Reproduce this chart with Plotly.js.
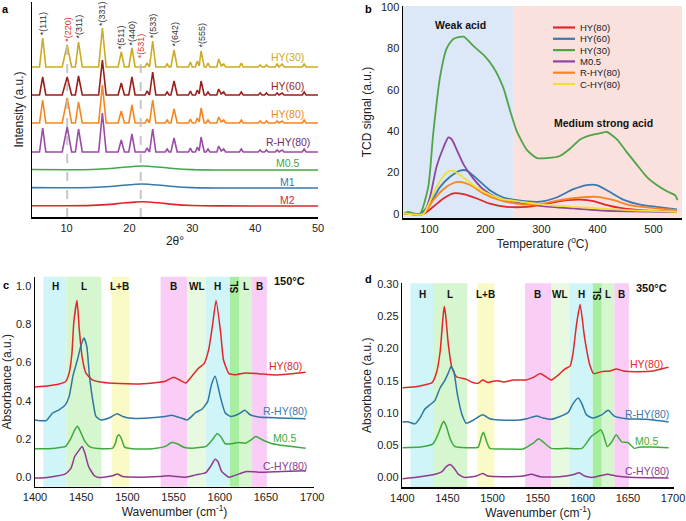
<!DOCTYPE html>
<html>
<head>
<meta charset="utf-8">
<script src="https://cdn.plot.ly/plotly-3.0.1.min.js"></script>
<style>html,body{margin:0;padding:0;background:#fff;}#chart{width:686px;height:521px;}</style>
</head>
<body>
<div id="chart"></div>
<script>
// ---------------- Panel a: XRD ----------------
const xrdX = [4.5,5.7,6.2,6.7,9.3,10.1,10.8,11.4,11.9,12.5,15.1,15.7,16.3,18.2,18.7,19.2,19.9,20.4,20.9,22.5,22.8,23.2,23.7,24.2,25.7,26.0,26.3,26.6,27.1,27.6,29.4,29.7,30.0,30.5,30.8,31.1,31.4,31.9,32.2,32.5,32.8,33.9,34.2,34.6,35.0,35.3,37.5,37.8,38.1,40.5,40.8,41.1,41.5,41.8,42.1,43.2,43.5,43.8,44.3,44.6,47.5,47.8,48.1,50];
const xrdHY30 = [0,0,29,0, 0,22,0, 0,25,0, 0,39,0, 0,15,0, 0,19,0, 0,4,0, 26,0, 0,3,0, 0,17,0, 0,5,0, 0,6,1, 16,0, 0,4,0, 0,8,1, 3,0, 0,4,0, 0,2,0, 0,2,0, 0,3,0, 3,0, 0,3,0, 0];
const xrdHY60 = [0,0,18,0, 0,18,0, 0,19,0, 0,35,0, 0,12,0, 0,18,0, 0,4,0, 23,0, 0,3,0, 0,14,0, 0,4,0, 0,5,1, 14,0, 0,3,0, 0,6,1, 3,0, 0,3,0, 0,2,0, 0,2,0, 0,2,0, 2,0, 0,3,0, 0];
const xrdHY80 = [0,0,23,0, 0,25,0, 0,21,0, 0,38,0, 0,12,0, 0,18,0, 0,4,0, 23,0, 0,3,0, 0,14,0, 0,4,0, 0,5,1, 15,0, 0,3,0, 0,6,1, 3,0, 0,3,0, 0,2,0, 0,2,0, 0,2,0, 2,0, 0,3,0, 0];
const xrdRHY80 = [0,0,24,0, 0,25,0, 0,23,0, 0,39,0, 0,12,0, 0,18,0, 0,4,0, 23,0, 0,3,0, 0,14,0, 0,4,0, 0,5,1, 15,0, 0,3,0, 0,6,1, 3,0, 0,3,0, 0,2,0, 0,2,0, 0,2,0, 2,0, 0,3,0, 0];
const xrdMX = [4.5,10,14,17,19,21,22,23,25,27,30,35,50];
const xrdM05 = [0.5,0.3,0.5,1.5,2.8,3.8,4,3.8,2.8,1.5,0.4,0,0];
const xrdM1 = [0.4,0.2,0.5,1.5,2.8,3.8,4,3.8,2.8,1.5,0.4,0,0];
const xrdM2 = [0.3,0.2,0.6,1.6,3,3.9,4.2,4,3,1.6,0.5,0.1,0];
const xrdNames = ['HY(30)','HY(60)','HY(80)','R-HY(80)','M0.5','M1','M2'];
const xrdOffsets = [150,122,94,65,47,29,11];
const peakHKL = ['(111)','(220)','(311)','(331)','(511)','(440)','(531)','(533)','(642)','(555)'];
const peakPos = [6.2,10.1,11.9,15.7,18.7,20.4,21.8,23.7,27.1,31.4];
const peakLabelY = [180,173,176,189,166,170,157,177,168,167];
const dashedLinesX = [10.1,21.8];
const dashedLinesTop = [172,155];

// ---------------- Panel b: NH3-TPD ----------------
const tcdNames = ['HY(80)','HY(60)','HY(30)','M0.5','R-HY(80)','C-HY(80)'];
const tcdHY80x = [55,89,107,125,143,161,185,208,238,274,310,345,369,393,417,446,476,542];
const tcdHY80y = [0.3,0,3.5,7.5,10,9.6,7.5,5,3.5,3.5,5,6.7,7,6.3,4.3,2.7,1.9,1.1];
const tcdHY60x = [55,83,101,119,137,155,167,185,208,232,256,298,327,357,381,399,417,446,476,506,542];
const tcdHY60y = [0.3,0,5,13,18,21,21,17,11.5,8,6.7,6,8,12,14,14,11.5,7,4.6,3.5,2.2];
const tcdHY30x = [55,62,70,83,98,107,119,131,143,161,179,196,214,232,244,256,274,292,310,333,351,369,387,405,417,435,452,470,488,506,524,539,543];
const tcdHY30y = [0.3,1,0.5,0,13,39,66,80,84.5,85.6,81,77,71,61,50,40,31,27,27,28,31.5,36,38,39,39.6,36,30,24,18,14,11,9,6.7];
const tcdM05x = [55,89,101,113,125,134,140,149,161,179,196,220,250,298,357,417,542];
const tcdM05y = [0.3,0,8,23,32,37,36,31,24,17,12,8,6,4,2.7,1.6,1.1];
const tcdRHY80x = [55,89,107,125,143,155,173,196,226,262,298,333,369,399,429,458,506,542];
const tcdRHY80y = [0.3,0,6.7,12,15,15.5,14,10,6.7,4.8,4.8,6.7,8,8.3,6.7,4.3,2.7,1.9];
const tcdCHY80x = [55,89,107,119,131,140,155,173,196,226,262,310,357,405,452,542];
const tcdCHY80y = [0.3,0,10,16,20,21,19,15,11,7.5,6,4.3,3.5,2.7,1.9,1.1];
const acidRegions = [[53,250],[250,551]];
const acidNames = ['Weak acid','Medium strong acid'];

// ---------------- Panels c, d: Py-IR ----------------
const irNames = ['HY(80)','R-HY(80)','M0.5','C-HY(80)'];
const irC_HY80x = [1400,1415,1426,1433,1437,1440,1442,1445.5,1448,1451,1455,1462,1473,1491,1513,1534,1541,1550,1556,1563,1570,1577,1583,1588,1592,1596,1601,1604,1610,1617,1628,1642,1660,1678,1693];
const irC_HY80y = [0.472,0.479,0.488,0.50,0.546,0.65,0.81,0.925,0.77,0.63,0.546,0.51,0.497,0.49,0.488,0.497,0.502,0.523,0.51,0.493,0.53,0.57,0.595,0.668,0.79,0.925,0.755,0.615,0.542,0.537,0.546,0.542,0.535,0.542,0.549];
const irC_RHY80x = [1400,1412,1419,1426,1433,1437,1441,1446,1450,1453,1456,1459,1463,1466,1471,1480,1489,1495,1505,1523,1541,1548,1556,1565,1574,1581,1587,1591,1595,1601,1606,1612,1621,1627,1633,1642,1664,1693];
const irC_RHY80y = [0.30,0.296,0.336,0.353,0.38,0.423,0.528,0.616,0.694,0.729,0.686,0.528,0.388,0.318,0.30,0.31,0.332,0.318,0.308,0.31,0.318,0.324,0.313,0.30,0.339,0.357,0.397,0.484,0.528,0.414,0.336,0.318,0.332,0.35,0.327,0.315,0.31,0.306];
const irC_M05x = [1400,1415,1422,1433,1439,1443,1446,1449,1454,1460,1473,1484,1487,1489,1491,1494,1497,1505,1527,1541,1548,1554,1561,1570,1585,1592,1597,1601,1606,1612,1620,1628,1633,1639,1646,1657,1671,1693];
const irC_M05y = [0.149,0.149,0.152,0.161,0.205,0.248,0.266,0.24,0.187,0.157,0.149,0.152,0.178,0.213,0.222,0.196,0.157,0.149,0.149,0.161,0.182,0.175,0.157,0.152,0.161,0.196,0.227,0.213,0.175,0.175,0.182,0.178,0.192,0.213,0.196,0.175,0.164,0.152];
const irC_CHY80x = [1400,1415,1433,1439,1443,1448,1451,1454,1458,1464,1469,1484,1489,1495,1513,1534,1545,1563,1574,1585,1590,1595,1598,1602,1610,1621,1629,1642,1667,1693];
const irC_CHY80y = [-0.005,0,0.017,0.047,0.108,0.143,0.161,0.126,0.056,0.009,-0.002,0.007,0.017,0.003,0,0.003,0.007,0,0.012,0.024,0.056,0.094,0.082,0.03,0,0.017,0.03,0.026,0.03,0.033];

const irD_HY80x = [1400,1412,1423,1433,1438,1442,1445,1446.5,1448,1451,1455,1460,1471,1478,1484,1489,1495,1500,1506,1512,1523,1537,1545,1553,1558,1565,1573,1580,1586,1589,1593,1597,1602,1608,1612,1621,1630,1637,1645,1659,1678,1689,1695];
const irD_HY80y = [0.139,0.14,0.143,0.147,0.163,0.196,0.247,0.265,0.252,0.206,0.17,0.156,0.152,0.147,0.146,0.151,0.147,0.149,0.15,0.148,0.151,0.151,0.155,0.161,0.157,0.151,0.159,0.168,0.173,0.191,0.237,0.268,0.216,0.173,0.161,0.164,0.165,0.168,0.165,0.164,0.165,0.169,0.171];
const irD_RHY80x = [1400,1407,1414,1420,1425,1431,1436,1442,1447,1451,1454,1457,1461,1466,1471,1479,1489,1497,1508,1530,1538,1549,1556,1565,1574,1584,1589,1595,1599,1604,1611,1621,1628,1635,1648,1670,1695];
const irD_RHY80y = [0.086,0.086,0.083,0.093,0.106,0.113,0.119,0.139,0.15,0.162,0.172,0.165,0.129,0.098,0.084,0.089,0.097,0.091,0.089,0.089,0.091,0.095,0.092,0.09,0.094,0.101,0.114,0.123,0.114,0.097,0.092,0.097,0.104,0.095,0.091,0.09,0.086];
const irD_M05x = [1400,1420,1434,1440,1444,1446,1449,1453,1458,1471,1484,1488,1490,1493,1497,1512,1534,1538,1545,1551,1556,1565,1582,1599,1604,1609,1615,1620,1623,1627,1632,1637,1643,1650,1657,1663,1678,1695];
const irD_M05y = [0.046,0.047,0.052,0.068,0.083,0.087,0.078,0.06,0.048,0.046,0.047,0.065,0.07,0.057,0.045,0.044,0.044,0.047,0.053,0.06,0.055,0.045,0.045,0.045,0.053,0.063,0.069,0.074,0.065,0.048,0.055,0.066,0.055,0.054,0.045,0.047,0.047,0.046];
const irD_CHY80x = [1400,1420,1434,1444,1449,1453,1457,1462,1469,1482,1489,1495,1512,1534,1543,1553,1574,1589,1596,1602,1611,1627,1637,1652,1695];
const irD_CHY80y = [-0.002,0.001,0.004,0.009,0.017,0.02,0.015,0.005,0,0.002,0.006,0.002,0.001,0.002,0.005,0.001,0.001,0.004,0.007,0.002,0,0.005,0.002,0,-0.001];

const bandLabels = ['H','L','L+B','B','WL','H','SL','L','B'];
const bandStart = [1409,1434,1483,1536,1565,1585,1611,1621,1635];
const bandEnd   = [1434,1472,1502,1565,1585,1611,1621,1635,1651];
const bandType  = ['H','L','LB','B','WL','H','SL','L','B'];
const bandColors = {H:'#CFF5F8', L:'#D5F6CE', LB:'#FAFAC6', B:'#F9CDF6', WL:'#E7F9E0', SL:'#A8EEA0'};

// ---------------- Styles ----------------
const FONT = 'Liberation Sans, Arial, Helvetica, sans-serif';
const xrdColors = ['#CCAA22','#9B1E1A','#F5861F','#9A4BA6','#3EAA48','#3878B0','#DC262C'];
const xrdLabelColors = ['#CCAA22','#9B1E1A','#F08A24','#6E2C70','#3EAA48','#3878B0','#DC262C'];
const tcdColors = ['#E2262A','#3A78AE','#4FA447','#8E44A0','#F7861E','#F2E135'];
const irColors = ['#E2262A','#2E77A3','#3DAA3D','#8E3B8E'];
const irLabelColors = ['#E2262A','#3A78AE','#3DAA3D','#8E3B8E'];

const traces = [];
// panel a
const xrdSeries = [xrdHY30, xrdHY60, xrdHY80, xrdRHY80];
xrdSeries.forEach((s, i) => {
  traces.push({x: xrdX, y: s.map(v => v + xrdOffsets[i]), type: 'scatter', mode: 'lines',
    line: {color: xrdColors[i], width: 1.6}, xaxis: 'x', yaxis: 'y', showlegend: false, name: xrdNames[i]});
});
[xrdM05, xrdM1, xrdM2].forEach((s, j) => {
  const i = j + 4;
  traces.push({x: xrdMX, y: s.map(v => v + xrdOffsets[i]), type: 'scatter', mode: 'lines',
    line: {color: xrdColors[i], width: 1.6, shape: 'spline'}, xaxis: 'x', yaxis: 'y', showlegend: false, name: xrdNames[i]});
});
// panel b
const tcdX = [tcdHY80x, tcdHY60x, tcdHY30x, tcdM05x, tcdRHY80x, tcdCHY80x];
const tcdY = [tcdHY80y, tcdHY60y, tcdHY30y, tcdM05y, tcdRHY80y, tcdCHY80y];
tcdX.forEach((xs, i) => {
  traces.push({x: xs, y: tcdY[i], type: 'scatter', mode: 'lines',
    line: {color: tcdColors[i], width: 1.8, shape: 'spline', smoothing: 0.6}, xaxis: 'x2', yaxis: 'y2', showlegend: false, name: tcdNames[i]});
});
// panel c
const irCX = [irC_HY80x, irC_RHY80x, irC_M05x, irC_CHY80x];
const irCY = [irC_HY80y, irC_RHY80y, irC_M05y, irC_CHY80y];
irCX.forEach((xs, i) => {
  traces.push({x: xs, y: irCY[i], type: 'scatter', mode: 'lines',
    line: {color: irColors[i], width: 1.5, shape: 'spline', smoothing: 0.5}, xaxis: 'x3', yaxis: 'y3', showlegend: false, name: irNames[i]});
});
// panel d
const irDX = [irD_HY80x, irD_RHY80x, irD_M05x, irD_CHY80x];
const irDY = [irD_HY80y, irD_RHY80y, irD_M05y, irD_CHY80y];
irDX.forEach((xs, i) => {
  traces.push({x: xs, y: irDY[i], type: 'scatter', mode: 'lines',
    line: {color: irColors[i], width: 1.5, shape: 'spline', smoothing: 0.5}, xaxis: 'x4', yaxis: 'y4', showlegend: false, name: irNames[i]});
});

// ---------------- Shapes ----------------
const shapes = [];
acidRegions.forEach((r, i) => {
  shapes.push({type: 'rect', xref: 'x2', yref: 'y2 domain', x0: r[0], x1: r[1], y0: 0, y1: 1,
    fillcolor: i === 0 ? '#DCE7F8' : '#FBE1DE', line: {width: 0}, layer: 'below'});
});
['x3','x4'].forEach((xr, p) => {
  const yr = p === 0 ? 'y3 domain' : 'y4 domain';
  bandStart.forEach((b, i) => {
    shapes.push({type: 'rect', xref: xr, yref: yr, x0: b, x1: bandEnd[i], y0: 0, y1: 1,
      fillcolor: bandColors[bandType[i]], line: {width: 0}, layer: 'below'});
  });
});
dashedLinesX.forEach((x, i) => {
  shapes.push({type: 'line', xref: 'x', yref: 'y', x0: x, x1: x, y0: 0, y1: dashedLinesTop[i],
    line: {color: '#BDBDBD', width: 2, dash: 'dash'}, opacity: 0.85, layer: 'above'});
});

// ---------------- Annotations ----------------
const ann = [];
const W = 686, H = 521;
function paperText(px, py, text, opts) {
  ann.push(Object.assign({xref: 'paper', yref: 'paper', x: px / W, y: 1 - py / H, text: text,
    xanchor: 'center', yanchor: 'middle', showarrow: false,
    font: {family: FONT, size: 11, color: '#000'}}, opts || {}));
}
// panel letters
paperText(5, 9, '<b>a</b>');
paperText(368, 9, '<b>b</b>');
paperText(6, 285, '<b>c</b>');
paperText(369, 279, '<b>d</b>');

// peak labels (a)
peakHKL.forEach((t, i) => {
  const red = (t === '(220)' || t === '(531)');
  ann.push({xref: 'x', yref: 'y', x: peakPos[i], y: peakLabelY[i], text: '*' + t, textangle: -90,
    showarrow: false, xanchor: 'center', yanchor: 'bottom',
    font: {family: FONT, size: 9, color: red ? '#E0302A' : '#333'}});
});
// series labels (a)
const xrdLabelY = [160,131,103,75,54,35,17];
xrdNames.forEach((n, i) => {
  ann.push({xref: 'x', yref: 'y', x: 45.2, y: xrdLabelY[i], text: n, showarrow: false,
    xanchor: 'center', yanchor: 'middle',
    font: {family: FONT, size: 10.5, color: xrdLabelColors[i]}});
});
// acid region labels (b)
ann.push({xref: 'x2', yref: 'y2', x: 155, y: 91, text: '<b>' + acidNames[0] + '</b>', showarrow: false,
  xanchor: 'center', yanchor: 'middle', font: {family: FONT, size: 10.5, color: '#111'}});
ann.push({xref: 'x2', yref: 'y2', x: 410, y: 44, text: '<b>' + acidNames[1] + '</b>', showarrow: false,
  xanchor: 'center', yanchor: 'middle', font: {family: FONT, size: 10.5, color: '#111'}});
// manual legend (b)
const legRows = [27.5, 38.8, 50.1, 61.4, 72.7, 84];
tcdNames.forEach((n, i) => {
  shapes.push({type: 'line', xref: 'paper', yref: 'paper', x0: 553 / W, x1: 575 / W,
    y0: 1 - legRows[i] / H, y1: 1 - legRows[i] / H, line: {color: tcdColors[i], width: 2.2}});
  paperText(579, legRows[i], n, {xanchor: 'left', borderpad: 0, font: {family: FONT, size: 9.5, color: '#222'}});
});
// band labels (c,d)
const bandLabelX = [1422,1453,1492,1550,1575,1598,1616,1628,1643];
bandLabels.forEach((t, i) => {
  [['x3','y3',0.997],['x4','y4',0.284]].forEach(ax => {
    ann.push({xref: ax[0], yref: ax[1], x: bandLabelX[i], y: ax[2], text: '<b>' + t + '</b>', showarrow: false,
      xanchor: 'center', yanchor: 'middle',
      textangle: t === 'SL' ? -90 : 0, font: {family: FONT, size: 10, color: '#111'}});
  });
});
ann.push({xref: 'x3', yref: 'y3', x: 1676, y: 1.025, text: '<b>150°C</b>', showarrow: false,
  xanchor: 'center', yanchor: 'middle', font: {family: FONT, size: 11, color: '#111'}});
ann.push({xref: 'x4', yref: 'y4', x: 1676, y: 0.294, text: '<b>350°C</b>', showarrow: false,
  xanchor: 'center', yanchor: 'middle', font: {family: FONT, size: 11, color: '#111'}});
// series labels (c,d)
const irLabelCY = [0.584, 0.346, 0.205, 0.061];
const irLabelDY = [0.176, 0.098, 0.056, 0.0097];
irNames.forEach((n, i) => {
  ann.push({xref: 'x3', yref: 'y3', x: 1671, y: irLabelCY[i], text: n, showarrow: false,
    xanchor: 'center', yanchor: 'middle', font: {family: FONT, size: 10.5, color: irLabelColors[i]}});
  ann.push({xref: 'x4', yref: 'y4', x: 1671, y: irLabelDY[i], text: n, showarrow: false,
    xanchor: 'center', yanchor: 'middle', font: {family: FONT, size: 10.5, color: irLabelColors[i]}});
});

// ---------------- Layout ----------------
const axBase = {showline: true, linecolor: '#000', linewidth: 1.5, showgrid: false, zeroline: false,
  ticks: '', tickfont: {family: FONT, size: 11, color: '#222'}, automargin: false, fixedrange: true};
function ax(o) { return Object.assign({}, axBase, o); }
const titleFont = {family: FONT, size: 12, color: '#222'};

const layout = {
  width: W, height: H, margin: {l: 0, r: 0, t: 0, b: 0}, paper_bgcolor: '#fff', plot_bgcolor: 'rgba(0,0,0,0)',
  showlegend: false, font: {family: FONT},
  xaxis: ax({domain: [32 / W, 318 / W], range: [4.5, 50], tickvals: [10,20,30,40,50], anchor: 'y',
    title: {text: '2θ°', font: titleFont, standoff: 4}}),
  yaxis: ax({domain: [1 - 217 / H, 1 - 2 / H], range: [0, 215], showticklabels: false, anchor: 'x',
    title: {text: 'Intensity (a.u.)', font: titleFont, standoff: 4}}),
  xaxis2: ax({domain: [403 / W, 682 / W], range: [53, 551], tickvals: [100,200,300,400,500], anchor: 'y2',
    title: {text: 'Temperature (<sup>o</sup>C)', font: titleFont, standoff: 4}}),
  yaxis2: ax({domain: [1 - 218 / H, 1 - 6 / H], range: [-1.9, 100.4], tickvals: [0,20,40,60,80,100], anchor: 'x2',
    title: {text: 'TCD signal (a.u.)', font: titleFont, standoff: 6}}),
  xaxis3: ax({domain: [35 / W, 314 / W], range: [1400, 1702], tickvals: [1400,1450,1500,1550,1600,1650,1700], anchor: 'y3',
    title: {text: 'Wavenumber (cm<sup>-1</sup>)', font: titleFont, standoff: 4}}),
  yaxis3: ax({domain: [1 - 486.7 / H, 1 - 276.7 / H], range: [-0.05, 1.05], tickvals: [0,0.2,0.4,0.6,0.8,1.0], tickformat: '.1f', anchor: 'x3',
    title: {text: 'Absorbance (a.u.)', font: titleFont, standoff: 3}}),
  xaxis4: ax({domain: [402.3 / W, 674 / W], range: [1400, 1701], tickvals: [1400,1450,1500,1550,1600,1650,1700], anchor: 'y4',
    title: {text: 'Wavenumber (cm<sup>-1</sup>)', font: titleFont, standoff: 4}}),
  yaxis4: ax({domain: [1 - 487.3 / H, 1 - 283.3 / H], range: [-0.0154, 0.301], tickvals: [0,0.05,0.1,0.15,0.2,0.25,0.3], tickformat: '.2f', anchor: 'x4',
    title: {text: 'Absorbance (a.u.)', font: titleFont, standoff: 3}}),
  shapes: shapes,
  annotations: ann
};

Plotly.newPlot('chart', traces, layout, {displayModeBar: false, staticPlot: true});
</script>
</body>
</html>
